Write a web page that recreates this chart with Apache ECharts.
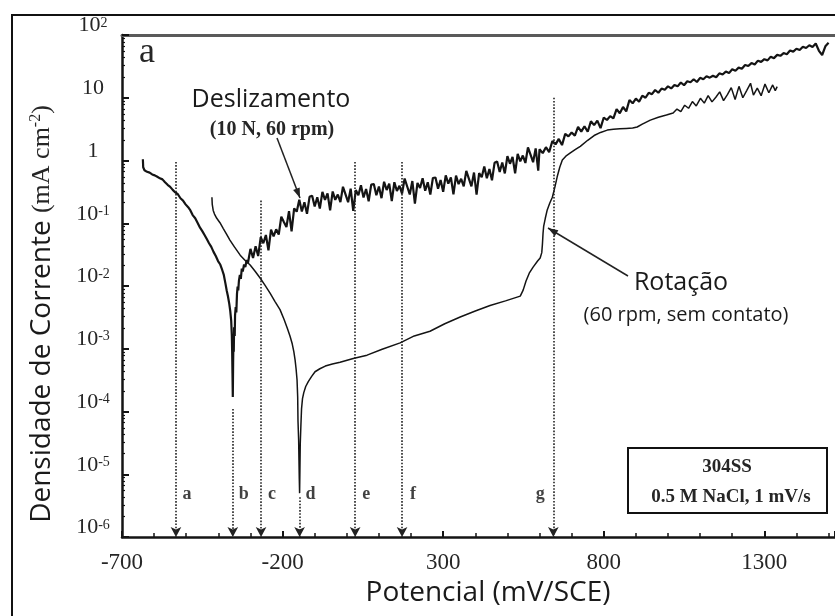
<!DOCTYPE html>
<html>
<head>
<meta charset="utf-8">
<script src="https://cdn.jsdelivr.net/npm/echarts@6/dist/echarts.min.js"></script>
<style>
  html, body { margin: 0; padding: 0; background: #fff; }
  #chart { width: 835px; height: 616px; }
</style>
</head>
<body>
<div id="chart"></div>
<script>
// Potentiodynamic polarization of 304SS in 0.5 M NaCl (1 mV/s):
// sliding (10 N, 60 rpm) versus rotation only (60 rpm, no contact).

// x axis: potential, mV/SCE
const potencialTicks = [-700, -200, 300, 800, 1300];
// y axis: current density decades, mA cm^-2
const correnteExpoentes = [-6, -5, -4, -3, -2, -1, 0, 1, 2];
const correnteRotulos = ['10{s|-6}', '10{s|-5}', '10{s|-4}', '10{s|-3}', '10{s|-2}', '10{s|-1}', '1', '10', '10{s|2}'];

// Sliding curve [potential mV, current density mA cm^-2]
const deslizamento = [
  [-635,1.05],[-634,0.78],[-630,0.70],[-622,0.66],[-614,0.64],[-606,0.60],[-598,0.58],[-590,0.55],[-582,0.52],[-574,0.50],
  [-566,0.45],[-558,0.41],[-550,0.38],[-542,0.34],[-534,0.31],[-526,0.29],[-518,0.25],[-510,0.23],[-502,0.20],[-494,0.18],
  [-487,0.16],[-480,0.135],[-472,0.12],[-464,0.10],[-457,0.085],[-450,0.075],[-443,0.065],[-436,0.056],[-429,0.048],[-422,0.042],
  [-415,0.035],[-408,0.030],[-401,0.025],[-394,0.022],[-388,0.018],[-383,0.015],[-378,0.011],[-374,0.0085],[-370,0.0068],[-366,0.0052],
  [-363,0.0040],[-360,0.0028],[-358,0.0016],[-357,0.0009],[-356,0.0004],[-355,0.00017],[-354,0.0006],[-353,0.0013],[-352,0.0009],[-351,0.0022],
  [-349,0.0016],[-348,0.0034],[-346,0.0046],[-344,0.0038],[-342,0.0075],[-340,0.0098],[-338,0.0085],[-336,0.012],[-333,0.015],[-330,0.013],
  [-327,0.019],[-324,0.017],[-320,0.022],[-316,0.020],[-312,0.026],[-308,0.023],[-304,0.030],
  [-300,0.039],[-292,0.028],[-284,0.043],[-276,0.030],[-268,0.060],[-260,0.048],[-252,0.065],[-244,0.037],[-236,0.079],[-228,0.062],
  [-220,0.080],[-212,0.066],[-204,0.127],[-196,0.105],[-188,0.087],[-180,0.156],[-172,0.074],[-164,0.173],[-156,0.153],[-148,0.237],
  [-140,0.154],[-132,0.216],[-124,0.141],[-116,0.264],[-108,0.275],[-100,0.185],[-92,0.259],[-84,0.171],[-76,0.316],[-68,0.236],
  [-60,0.299],[-52,0.160],[-44,0.321],[-36,0.236],[-28,0.287],[-20,0.217],[-12,0.382],[-4,0.288],[4,0.216],[12,0.356],
  [20,0.157],[28,0.338],[36,0.280],[44,0.404],[52,0.257],[60,0.351],[68,0.224],[76,0.413],[84,0.421],[92,0.280],
  [100,0.386],[108,0.251],[116,0.459],[124,0.339],[132,0.426],[140,0.226],[148,0.450],[156,0.327],[164,0.395],[172,0.296],
  [180,0.516],[188,0.385],[196,0.287],[204,0.470],[212,0.206],[220,0.440],[228,0.364],[236,0.522],[244,0.330],[252,0.449],
  [260,0.286],[268,0.526],[276,0.536],[284,0.355],[292,0.489],[300,0.317],[308,0.580],[316,0.429],[324,0.540],[332,0.288],
  [340,0.573],[348,0.421],[356,0.511],[364,0.387],[372,0.682],[380,0.514],[388,0.388],[396,0.642],[404,0.286],[412,0.631],
  [420,0.540],[428,0.80],[436,0.52],[444,0.734],[452,0.483],[460,0.918],[468,0.963],[476,0.656],[484,0.930],[492,0.623],
  [500,1.17],[508,0.888],[516,1.14],[524,0.626],[532,1.28],[540,0.968],[548,1.20],[556,0.913],[564,1.62],[572,1.24],
  [580,0.94],[588,1.56],[596,0.69],
  [600,1.51],[610,1.31],[620,1.63],[630,1.36],[640,2.05],[650,1.81],[660,2.21],[670,1.76],[680,2.66],[690,2.42],
  [700,2.80],[710,2.49],[720,3.43],[730,2.88],[740,3.52],[750,2.87],[760,4.21],[770,3.66],[780,4.32],[790,3.28],
  [800,4.84],[810,4.42],[820,5.10],[830,4.68],[840,6.60],[850,5.67],[860,7.14],[870,6.07],[880,9.20],[890,8.17],
  [900,9.72],[910,8.64],[920,10.8],[930,10.0],[940,12.0],[950,11.4],[960,13.3],[970,12.0],[980,14.0],[990,13.4],
  [1000,15.2],[1010,14.1],[1020,16.0],[1030,15.2],[1040,17.5],[1050,15.8],[1060,18.3],[1070,17.7],[1080,19.7],[1090,17.8],
  [1100,20.8],[1110,19.7],[1120,22.0],[1130,20.9],[1140,22.4],[1150,21.2],[1160,24.5],[1170,23.5],[1180,26.1],[1190,24.7],
  [1200,28.4],[1210,27.0],[1220,30.2],[1230,29.0],[1240,33.3],[1250,32.0],[1260,35.7],[1270,33.9],[1280,39.0],[1290,37.3],
  [1300,41.2],[1310,39.4],[1320,45.2],[1330,42.8],[1340,48.2],[1350,46.6],[1360,51.5],[1370,49.4],[1380,56.7],[1390,54.3],
  [1400,60.3],[1410,57.6],[1420,65.1],[1430,62.1],[1440,68.6],[1450,64.6],[1460,73.1],[1470,56.0],[1480,48.0],[1490,66.0],
  [1500,75.0]
];

// Rotation-only curve [potential mV, current density mA cm^-2]
const rotacao = [
  [-420,0.26],[-419,0.20],[-416,0.16],[-412,0.14],[-405,0.12],[-395,0.102],[-385,0.083],[-375,0.068],[-364,0.054],[-350,0.042],
  [-332,0.031],[-318,0.026],[-301,0.0216],[-285,0.017],[-270,0.0134],[-255,0.0103],[-239,0.0077],[-224,0.0057],[-208,0.0042],[-195,0.0029],
  [-185,0.0021],[-177,0.0016],[-170,0.0012],[-165,0.0009],[-161,0.00066],[-158,0.00048],[-155,0.00032],[-153,0.00017],[-152,0.00007],[-150,0.000035],
  [-149,0.000017],[-148,0.0000085],[-147,0.000005],[-146,0.000012],[-145,0.00003],[-143,0.00006],[-141,0.00011],[-138,0.00016],[-134,0.0002],[-128,0.00025],
  [-120,0.0003],[-110,0.00036],[-99,0.00043],[-84,0.00048],[-67,0.00053],[-45,0.00057],[-21,0.00061],[20,0.00070],[63,0.00079],[110,0.00098],
  [166,0.00124],[210,0.0016],[259,0.0019],[305,0.0025],[353,0.0032],[400,0.0040],[446,0.0049],[494,0.0058],[540,0.0069],[549,0.0086],
  [558,0.012],[568,0.016],[580,0.020],[594,0.025],[602,0.028],[607,0.034],[609,0.046],[611,0.07],[613,0.09],[618,0.12],
  [624,0.163],[632,0.21],[640,0.26],[648,0.38],[655,0.55],[663,0.78],[671,1.02],[684,1.2],[696,1.32],[712,1.5],
  [727,1.68],[750,2.1],[770,2.5],[790,2.8],[811,3.05],[830,3.15],[850,3.2],[870,3.25],[890,3.3],[904,3.42],
  [920,3.8],[945,4.4],[970,4.9],[995,5.3],[1016,5.7],[1028,6.6],[1040,6.0],[1052,7.6],[1064,6.8],[1076,8.7],
  [1088,7.4],[1101,9.8],[1113,8.2],[1125,10.8],[1137,8.6],[1149,10.2],[1161,12.4],[1173,9.0],[1185,11.2],[1197,14.5],
  [1209,9.4],[1221,15.2],[1233,10.0],[1245,13.0],[1257,17.0],[1266,11.0],[1278,14.2],[1290,10.8],[1302,16.5],[1314,12.0],
  [1326,16.0],[1334,13.0],[1340,15.0]
];

// Reference potentials marked with dotted arrows
const marcadorLetras = ['a', 'b', 'c', 'd', 'e', 'f', 'g'];
const marcadorPotenciais = [-532, -355, -267, -147, 26, 172, 643];
const marcadorTopos = [0.95, 0.00011, 0.23, 0.0000043, 0.95, 0.95, 10];
const marcadorRotuloCorrente = 0.0000047;

const TXT = '#262626';
const INK = '#141414';

function arrowHead(x1, y1, x2, y2, len, half) {
  const dx = x2 - x1, dy = y2 - y1, L = Math.hypot(dx, dy);
  const ux = dx / L, uy = dy / L;
  const bx = x2 - ux * len, by = y2 - uy * len;
  return [[x2, y2], [bx - uy * half, by + ux * half], [bx + uy * half, by - ux * half]];
}

const chart = echarts.init(document.getElementById('chart'), null, { renderer: 'canvas' });

const letterData = marcadorLetras.map((l, i) => ({
  value: [marcadorPotenciais[i], marcadorRotuloCorrente],
  label: { formatter: l, offset: [l === 'g' ? -13 : 11, 0] }
}));

const markLines = marcadorLetras.map((l, i) => ([
  { coord: [marcadorPotenciais[i], marcadorTopos[i]], symbol: 'none' },
  { coord: [marcadorPotenciais[i], 1e-6], symbol: 'arrow' }
]));

const option = {
  animation: false,
  backgroundColor: '#ffffff',
  grid: { left: 122, top: 35, right: 0, bottom: 79, containLabel: false },
  xAxis: [{
    type: 'value',
    min: -700, max: 1520, interval: 500,
    axisLine: { onZero: false, lineStyle: { color: INK, width: 2.5 } },
    axisTick: { inside: true, length: 6, lineStyle: { color: INK, width: 2 } },
    minorTick: { show: true, splitNumber: 5, length: 4, lineStyle: { color: INK, width: 1.5 } },
    splitLine: { show: false },
    axisLabel: {
      showMaxLabel: false, margin: 14,
      fontFamily: 'Liberation Serif', fontSize: 23, color: TXT,
      formatter: (v) => potencialTicks.includes(v) ? String(v) : ''
    }
  }, {
    type: 'value', position: 'top',
    min: -700, max: 1520, interval: 500,
    axisLine: { onZero: false, lineStyle: { color: '#5a5a5a', width: 3 } },
    axisTick: { show: false }, axisLabel: { show: false }, splitLine: { show: false }
  }],
  yAxis: {
    type: 'log', logBase: 10, min: 1e-6, max: 100, splitNumber: 8,
    axisLine: { show: true, onZero: false, lineStyle: { color: INK, width: 2.5 } },
    axisTick: { inside: true, length: 7, lineStyle: { color: INK, width: 2 } },
    minorTick: { show: true, splitNumber: 8, length: 3, lineStyle: { color: INK, width: 1.2 } },
    splitLine: { show: false },
    axisLabel: {
      align: 'center', margin: 29, verticalAlign: 'bottom',
      color: TXT, fontFamily: 'Liberation Serif', fontSize: 22, lineHeight: 19,
      formatter: (v) => {
        const e = Math.round(Math.log10(v));
        const i = correnteExpoentes.indexOf(e);
        return i >= 0 ? correnteRotulos[i] : '';
      },
      rich: {
        s: { fontFamily: 'Liberation Serif', fontSize: 14, lineHeight: 8, verticalAlign: 'top', color: TXT }
      }
    }
  },
  series: [{
    name: 'Deslizamento', type: 'line', data: deslizamento,
    showSymbol: false, symbol: 'none', smooth: false,
    lineStyle: { color: INK, width: 2.2 }, z: 3
  }, {
    name: 'Rotação', type: 'line', data: rotacao,
    showSymbol: false, symbol: 'none', smooth: false,
    lineStyle: { color: INK, width: 1.5 }, z: 3
  }, {
    name: 'Marcadores', type: 'scatter', data: letterData,
    symbol: 'circle', symbolSize: 0, itemStyle: { color: '#111' },
    label: {
      show: true, position: 'inside',
      fontFamily: 'Liberation Serif', fontWeight: 'bold', fontSize: 18, color: '#111'
    },
    silent: true, z: 2,
    markLine: {
      silent: true, animation: false,
      symbolSize: [8, 10],
      label: { show: false },
      lineStyle: { type: 'dotted', color: '#222', width: 1.6 },
      data: markLines
    }
  }],
  graphic: [
    // outer figure frame
    { type: 'rect', shape: { x: 12, y: 15, width: 900, height: 700 }, style: { fill: 'none', stroke: '#111', lineWidth: 2 }, z: 10 },
    // panel letter
    { type: 'text', x: 147, y: 53, style: { text: 'a', fontFamily: 'Liberation Serif', fontSize: 36, fill: TXT, align: 'center', verticalAlign: 'middle' }, z: 10 },
    // sliding annotation
    { type: 'text', x: 271, y: 100, style: { text: 'Deslizamento', fontFamily: 'Open Sans', fontSize: 25, fill: '#1a1a1a', align: 'center', verticalAlign: 'middle' }, z: 10 },
    { type: 'text', x: 272, y: 130, style: { text: '(10 N, 60 rpm)', fontFamily: 'Liberation Serif', fontWeight: 'bold', fontSize: 20, fill: TXT, align: 'center', verticalAlign: 'middle' }, z: 10 },
    { type: 'line', shape: { x1: 277, y1: 138, x2: 300, y2: 198 }, style: { stroke: '#222', lineWidth: 1.5 }, z: 10 },
    { type: 'polygon', shape: { points: arrowHead(277, 138, 300, 198, 10, 3.5) }, style: { fill: '#222' }, z: 10 },
    // rotation annotation
    { type: 'text', x: 681, y: 283, style: { text: 'Rotação', fontFamily: 'Open Sans', fontSize: 25, fill: '#1a1a1a', align: 'center', verticalAlign: 'middle' }, z: 10 },
    { type: 'text', x: 686, y: 315, style: { text: '(60 rpm, sem contato)', fontFamily: 'Open Sans', fontSize: 20, fill: '#1a1a1a', align: 'center', verticalAlign: 'middle' }, z: 10 },
    { type: 'line', shape: { x1: 628, y1: 276, x2: 548, y2: 228 }, style: { stroke: '#222', lineWidth: 1.5 }, z: 10 },
    { type: 'polygon', shape: { points: arrowHead(628, 276, 548, 228, 10, 3.5) }, style: { fill: '#222' }, z: 10 },
    // test conditions box
    { type: 'rect', shape: { x: 628, y: 448, width: 199, height: 65 }, style: { fill: '#fff', stroke: '#111', lineWidth: 2 }, z: 10 },
    { type: 'text', x: 727, y: 467, style: { text: '304SS', fontFamily: 'Liberation Serif', fontWeight: 'bold', fontSize: 19, fill: TXT, align: 'center', verticalAlign: 'middle' }, z: 11 },
    { type: 'text', x: 731, y: 497, style: { text: '0.5 M NaCl, 1 mV/s', fontFamily: 'Liberation Serif', fontWeight: 'bold', fontSize: 19, fill: TXT, align: 'center', verticalAlign: 'middle' }, z: 11 },
    // axis titles
    {
      type: 'text', x: 42, y: 314, rotation: Math.PI / 2,
      style: {
        text: '{a|Densidade de Corrente }{b|(mA cm}{s|-2}{b|)}',
        align: 'center', verticalAlign: 'middle', fill: '#1a1a1a',
        rich: {
          a: { fontFamily: 'Open Sans', fontSize: 28, fill: '#1a1a1a' },
          b: { fontFamily: 'Liberation Serif', fontSize: 26, fill: TXT },
          s: { fontFamily: 'Liberation Serif', fontSize: 16, fill: TXT, verticalAlign: 'top' }
        }
      }, z: 10
    },
    { type: 'text', x: 488, y: 593, style: { text: 'Potencial (mV/SCE)', fontFamily: 'Open Sans', fontSize: 28, fill: '#1a1a1a', align: 'center', verticalAlign: 'middle' }, z: 10 }
  ]
};

chart.setOption(option);
</script>
</body>
</html>
